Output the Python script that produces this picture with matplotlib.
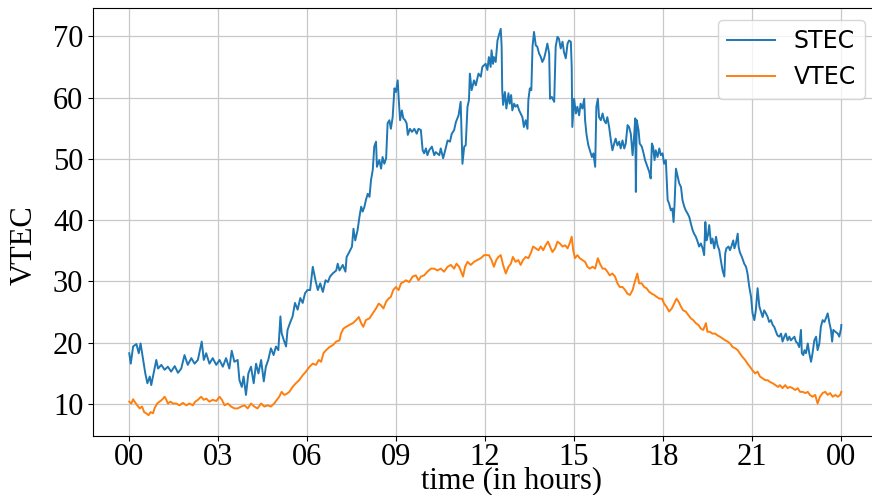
import matplotlib
matplotlib.use("Agg")
import matplotlib.pyplot as plt

# ---------------- data ----------------
stec_hours = [
    0.02, 0.07, 0.15, 0.26, 0.34, 0.40, 0.48, 0.56, 0.63, 0.71, 0.76, 0.85, 0.93, 0.99,
    1.10, 1.21, 1.32, 1.43, 1.55, 1.66, 1.77, 1.88, 1.99, 2.11, 2.22, 2.33, 2.46, 2.53,
    2.61, 2.72, 2.83, 2.95, 3.06, 3.17, 3.28, 3.39, 3.47, 3.56, 3.67, 3.73, 3.81, 3.87,
    3.95, 4.03, 4.12, 4.21, 4.29, 4.37, 4.46, 4.55, 4.62, 4.70, 4.79, 4.88, 4.96, 5.04,
    5.11, 5.15, 5.22, 5.30, 5.35, 5.43, 5.52, 5.60, 5.69, 5.78, 5.86, 5.94, 6.02,
    6.11, 6.20, 6.29, 6.37, 6.45, 6.54, 6.63, 6.71, 6.78, 6.87, 6.99, 7.04, 7.10, 7.21,
    7.30, 7.34, 7.43, 7.52, 7.57, 7.63, 7.71, 7.77, 7.83, 7.88, 7.94, 7.99, 8.05, 8.11,
    8.16, 8.22, 8.27, 8.33, 8.36, 8.44, 8.50, 8.55, 8.61, 8.67, 8.72, 8.78, 8.83, 8.89,
    8.95, 9.00, 9.06, 9.09, 9.14, 9.20, 9.25, 9.31, 9.36, 9.40, 9.47, 9.54, 9.62, 9.70,
    9.76, 9.84, 9.90, 9.95, 10.01, 10.06, 10.12, 10.21, 10.29, 10.34, 10.46, 10.51,
    10.59, 10.66, 10.74, 10.82, 10.88, 10.96, 11.02, 11.11, 11.18, 11.24, 11.30, 11.35,
    11.41, 11.46, 11.49, 11.55, 11.63, 11.69, 11.78, 11.86, 11.91,
    12.02, 12.08, 12.13, 12.19, 12.22, 12.27, 12.30, 12.36, 12.42, 12.47, 12.53, 12.56,
    12.58, 12.61, 12.67, 12.72, 12.79, 12.83, 12.88, 12.92, 12.98, 13.03, 13.09, 13.15,
    13.20, 13.26, 13.31, 13.37, 13.43, 13.46, 13.51, 13.56, 13.60, 13.65, 13.71, 13.76,
    13.82, 13.88, 13.93, 13.99, 14.04, 14.10, 14.16, 14.19, 14.25, 14.33, 14.38, 14.44,
    14.49, 14.55, 14.61, 14.66, 14.72, 14.78, 14.83, 14.89, 14.92, 14.94, 15.00, 15.06,
    15.11, 15.17, 15.22, 15.28, 15.34, 15.37, 15.42, 15.48, 15.53, 15.60, 15.65, 15.71,
    15.75, 15.80, 15.84, 15.90, 15.96, 16.01, 16.07, 16.12, 16.18, 16.24, 16.29, 16.35,
    16.40, 16.46, 16.52, 16.57, 16.63, 16.69, 16.74, 16.80, 16.85, 16.91, 16.97, 17.02,
    17.06, 17.08, 17.11, 17.17, 17.21, 17.28, 17.34, 17.39, 17.47, 17.53, 17.58, 17.62,
    17.66, 17.71, 17.75, 17.81, 17.87, 17.92, 17.98, 18.03, 18.09, 18.15,
    18.20, 18.26, 18.31, 18.35, 18.38, 18.43, 18.48, 18.54, 18.60, 18.65, 18.71, 18.76,
    18.82, 18.88, 18.93, 18.99, 19.04, 19.10, 19.16, 19.21, 19.27, 19.33, 19.38, 19.42,
    19.46, 19.51, 19.55, 19.61, 19.66, 19.72, 19.78, 19.83, 19.89, 19.94, 20.00, 20.06,
    20.09, 20.13, 20.20, 20.25, 20.31, 20.36, 20.40, 20.45, 20.51, 20.54, 20.58, 20.65,
    20.73, 20.79, 20.84, 20.90, 20.96, 21.01, 21.07, 21.12, 21.18, 21.24, 21.29, 21.35,
    21.40, 21.46, 21.52, 21.57, 21.63, 21.69, 21.74, 21.80, 21.85, 21.91, 21.97, 22.02,
    22.08, 22.13, 22.19, 22.25, 22.30, 22.36, 22.42, 22.47, 22.53, 22.58, 22.64, 22.67,
    22.72, 22.76, 22.81, 22.87, 22.92, 22.98, 23.03, 23.09, 23.15, 23.20, 23.26, 23.31,
    23.37, 23.43, 23.48, 23.54, 23.60, 23.65, 23.69, 23.73, 23.80, 23.88, 23.93, 23.99, 24.00,
]
stec_vals = [
    18.3, 16.6, 19.4, 19.8, 18.3, 19.9, 17.5, 15.0, 13.4, 14.5, 13.1, 15.3, 17.2, 15.8,
    16.4, 15.6, 16.1, 15.3, 16.2, 15.1, 15.8, 18.0, 16.4, 17.5, 16.6, 17.2, 20.2, 17.2,
    18.3, 16.6, 17.5, 16.4, 17.2, 16.1, 17.5, 15.8, 18.7, 16.9, 17.2, 13.9, 12.8, 14.5,
    11.5, 15.0, 16.1, 13.4, 16.6, 15.0, 17.2, 13.7, 16.1, 17.2, 19.1, 18.0, 19.4, 18.8,
    24.3, 21.6, 20.5, 19.4, 22.1, 23.2, 24.3, 26.5, 25.4, 27.3, 26.5, 28.1, 28.6,
    28.6, 32.4, 30.2, 28.6, 29.7, 28.3, 30.2, 29.9, 30.8, 31.3, 31.8, 32.9, 31.8, 32.7,
    31.6, 34.0, 34.8, 35.7, 38.6, 36.7, 38.4, 40.5, 42.2, 41.4, 42.2, 43.3, 44.3, 43.8,
    46.5, 48.2, 52.0, 52.8, 48.7, 49.8, 48.4, 50.3, 49.2, 50.1, 55.8, 56.3, 54.9, 56.8,
    61.5, 60.9, 62.8, 60.1, 56.3, 57.9, 56.6, 56.3, 55.8, 53.9, 54.9, 54.4, 54.9, 54.1,
    54.9, 54.7, 51.4, 50.9, 51.7, 50.6, 51.4, 52.0, 50.6, 51.1, 50.6, 51.7,
    50.1, 51.4, 53.0, 52.8, 54.1, 54.7, 56.0, 57.1, 59.3, 49.2, 52.0, 52.2,
    58.5, 59.6, 63.9, 61.2, 62.8, 62.0, 63.9, 63.4, 65.0,
    65.5, 64.5, 66.6, 65.0, 67.7, 65.5, 66.6, 65.8, 69.3, 70.2, 71.2, 68.3,
    61.2, 58.8, 60.9, 58.2, 60.7, 59.0, 60.4, 57.9, 59.0, 58.5, 58.8, 57.9,
    57.4, 56.8, 55.2, 56.3, 54.9, 59.6, 61.5, 61.2, 68.3, 70.7, 68.5, 68.3,
    67.2, 66.6, 65.8, 66.4, 67.4, 68.8, 67.2, 59.8, 60.1, 59.3, 68.3, 69.9,
    69.6, 68.0, 69.1, 67.4, 66.4, 68.8, 69.3, 69.1, 65.0, 55.2, 59.8, 57.4,
    58.5, 57.1, 59.0, 58.2, 59.8, 56.3, 53.9, 52.2, 51.4, 50.3, 50.9, 48.7,
    58.5, 59.8, 56.8, 56.3, 57.4, 56.3, 55.8, 56.8, 55.2, 53.0, 51.4, 52.5,
    53.3, 52.2, 52.8, 51.7, 53.0, 51.7, 52.5, 55.5, 55.2, 54.1, 50.6, 53.6,
    56.6, 44.6, 56.3, 54.7, 52.5, 52.0, 50.9, 49.8, 48.7, 47.9, 46.8, 52.5,
    52.0, 49.8, 51.4, 50.3, 51.7, 50.6, 50.9, 49.2, 49.8, 43.3,
    42.7, 41.6, 41.9, 39.7, 42.2, 48.4, 47.3, 46.0, 45.4, 43.3, 42.2, 41.6,
    41.1, 40.5, 39.5, 38.4, 37.8, 37.3, 36.5, 35.7, 36.2, 35.4, 34.3, 39.7,
    36.7, 37.6, 39.2, 36.2, 37.0, 35.4, 37.3, 35.9, 35.1, 33.5, 31.8, 30.8,
    34.6, 35.4, 35.7, 35.1, 35.9, 36.7, 35.4, 36.2, 37.8, 35.7, 34.8, 34.0,
    32.9, 32.4, 31.3, 29.1, 27.5, 24.8, 23.7, 25.3, 28.9, 25.9, 25.1, 24.2,
    25.3, 24.8, 24.2, 23.4, 23.7, 22.9, 22.6, 21.8, 21.2, 21.0, 21.5, 20.2,
    21.0, 21.5, 20.4, 21.0, 20.4, 20.7, 21.0, 20.2, 19.9, 19.3, 22.1, 18.3,
    18.0, 18.8, 18.3, 19.9, 18.3, 16.9, 18.3, 20.4, 21.0, 18.8, 19.9, 22.6,
    23.7, 23.4, 24.0, 24.8, 23.2, 22.1, 20.2, 22.1, 21.8, 21.5, 21.0, 22.3, 22.9,
]

vtec_hours = [
    0.02, 0.09, 0.15, 0.20, 0.29, 0.37, 0.45, 0.52, 0.59, 0.67, 0.74, 0.82, 0.87, 0.96,
    1.04, 1.12, 1.21, 1.27, 1.32, 1.41, 1.49, 1.60, 1.71, 1.83, 1.94, 2.05, 2.16, 2.24,
    2.33, 2.44, 2.53, 2.61, 2.72, 2.83, 2.95, 3.06, 3.14, 3.23, 3.34, 3.45, 3.56, 3.67,
    3.79, 3.90, 4.01, 4.12, 4.23, 4.34, 4.46, 4.57, 4.68, 4.79, 4.90, 4.99, 5.07, 5.15,
    5.24, 5.33, 5.41, 5.52, 5.63, 5.74, 5.86, 5.97,
    6.09, 6.20, 6.31, 6.40, 6.48, 6.56, 6.65, 6.76, 6.87, 6.99, 7.10, 7.15, 7.23, 7.32,
    7.43, 7.55, 7.66, 7.75, 7.83, 7.90, 7.99, 8.11, 8.22, 8.33, 8.42, 8.50, 8.58, 8.67,
    8.75, 8.83, 8.91, 9.00, 9.09, 9.17, 9.25, 9.34, 9.45, 9.56, 9.67, 9.76, 9.84, 9.95,
    10.06, 10.18, 10.29, 10.40, 10.51, 10.62, 10.74, 10.85, 10.96, 11.04, 11.13, 11.22,
    11.26, 11.33, 11.41, 11.52, 11.63, 11.74, 11.86, 11.97,
    12.04, 12.13, 12.22, 12.30, 12.38, 12.45, 12.53, 12.61, 12.70, 12.79, 12.87, 12.94,
    13.03, 13.12, 13.20, 13.28, 13.37, 13.46, 13.54, 13.62, 13.71, 13.80, 13.88, 13.96,
    14.04, 14.12, 14.19, 14.27, 14.36, 14.44, 14.52, 14.61, 14.70, 14.78, 14.85, 14.92,
    14.97, 15.03, 15.11, 15.19, 15.28, 15.37, 15.45, 15.53, 15.62, 15.71, 15.80, 15.87,
    15.96, 16.04, 16.12, 16.20, 16.29, 16.38, 16.46, 16.54, 16.63, 16.72, 16.80, 16.88,
    16.97, 17.06, 17.13, 17.19, 17.28, 17.36, 17.44, 17.53, 17.62, 17.70, 17.78, 17.87, 17.96,
    18.03, 18.11, 18.20, 18.29, 18.37, 18.45, 18.52, 18.60, 18.67, 18.76, 18.85, 18.93,
    19.01, 19.10, 19.19, 19.27, 19.35, 19.44, 19.49, 19.57, 19.66, 19.75, 19.83, 19.91,
    20.00, 20.09, 20.17, 20.25, 20.34, 20.43, 20.51, 20.58, 20.67, 20.76, 20.84, 20.92,
    21.01, 21.10, 21.18, 21.26, 21.35, 21.44, 21.52, 21.60, 21.69, 21.78, 21.87, 21.93,
    22.02, 22.11, 22.19, 22.27, 22.36, 22.45, 22.53, 22.61, 22.70, 22.79, 22.87, 22.94,
    23.03, 23.12, 23.20, 23.28, 23.37, 23.46, 23.54, 23.62, 23.71, 23.80, 23.88, 23.96, 24.00,
]
vtec_vals = [
    10.4, 10.1, 10.8, 10.4, 9.8, 9.3, 9.6, 8.7, 8.5, 8.2, 8.7, 8.5, 9.3, 10.1,
    10.4, 10.7, 11.2, 10.7, 10.1, 10.4, 10.1, 10.1, 9.8, 10.2, 9.8, 10.1, 9.8, 10.4,
    10.7, 11.2, 10.7, 10.9, 10.4, 10.7, 10.5, 11.2, 10.7, 9.8, 10.1, 9.6, 9.3, 9.3,
    9.6, 9.8, 9.3, 10.1, 9.6, 9.3, 10.1, 9.6, 9.8, 9.6, 10.1, 10.7, 11.2, 12.0,
    11.5, 11.7, 12.0, 12.8, 13.4, 13.9, 14.7, 15.3,
    16.1, 16.6, 16.4, 17.2, 16.9, 18.3, 18.8, 19.3, 19.6, 20.2, 20.4, 21.5, 22.3, 22.6,
    22.9, 23.2, 23.7, 24.2, 23.2, 22.6, 23.7, 24.0, 24.8, 25.6, 26.4, 26.1, 25.6, 26.7,
    27.2, 27.5, 28.6, 29.1, 28.6, 29.7, 29.9, 30.2, 29.9, 30.8, 31.0, 30.2, 30.8, 31.0,
    31.6, 32.1, 32.1, 31.8, 32.1, 31.6, 32.4, 32.7, 32.1, 32.9, 32.4, 31.3,
    30.8, 32.4, 33.2, 32.7, 33.2, 33.5, 33.8, 34.3,
    34.3, 34.3, 33.5, 32.4, 33.5, 34.0, 34.3, 32.7, 31.3, 32.4, 32.9, 34.0,
    33.2, 33.5, 32.7, 33.5, 34.0, 33.8, 34.6, 35.7, 35.4, 35.1, 35.7, 35.1,
    35.9, 36.5, 35.7, 34.8, 35.4, 36.5, 36.2, 35.7, 35.9, 35.4, 36.2, 37.3,
    35.1, 33.8, 34.3, 33.8, 33.5, 33.2, 32.4, 32.1, 32.4, 32.1, 33.8, 32.9,
    32.1, 32.1, 31.6, 31.0, 31.3, 30.8, 29.7, 29.1, 29.1, 28.6, 28.0, 27.8,
    28.6, 30.2, 31.3, 29.7, 29.7, 29.1, 28.9, 28.3, 28.0, 27.8, 27.5, 27.2, 27.2,
    26.4, 25.9, 25.1, 25.6, 26.4, 27.2, 26.7, 25.9, 25.3, 25.1, 24.5, 24.0,
    23.7, 23.2, 22.9, 22.3, 22.1, 23.2, 21.8, 21.8, 21.5, 21.5, 21.2, 21.0,
    20.7, 20.4, 20.2, 19.9, 19.3, 19.1, 18.8, 18.3, 17.7, 17.2, 16.6, 16.1,
    15.5, 15.0, 15.3, 14.5, 14.2, 13.9, 13.9, 13.6, 13.4, 13.1, 12.8, 13.1,
    12.6, 13.1, 12.6, 12.8, 12.6, 12.3, 12.6, 12.0, 12.0, 11.8, 12.0, 11.5,
    11.2, 11.5, 10.1, 11.2, 11.8, 12.0, 11.5, 11.8, 11.2, 11.5, 11.2, 11.5, 12.0,
]

tick_hours = [0, 3, 6, 9, 12, 15, 18, 21, 24]
tick_labels = ["00", "03", "06", "09", "12", "15", "18", "21", "00"]

# ---------------- plot ----------------
serif = ["Liberation Serif", "DejaVu Serif"]

fig = plt.figure(figsize=(8.72, 4.95), dpi=100)
ax = fig.add_axes([0.1067, 0.1192, 0.899, 0.8646])

ax.plot(stec_hours, stec_vals, color="tab:blue", lw=1.4, label="STEC")
ax.plot(vtec_hours, vtec_vals, color="tab:orange", lw=1.4, label="VTEC")

ax.set_xlim(-1.2, 25.2)
ax.set_ylim(4.8, 74.6)
ax.set_xticks(tick_hours)
ax.set_xticklabels(tick_labels)
ax.set_yticks([10, 20, 30, 40, 50, 60, 70])
ax.tick_params(axis="x", pad=1.5)
for lab in ax.get_xticklabels() + ax.get_yticklabels():
    lab.set_family(serif)
    lab.set_fontsize(22)

ax.set_xlabel("time (in hours)", family=serif, fontsize=22)
ax.set_ylabel("VTEC", family=serif, fontsize=22)
ax.xaxis.set_label_coords(0.534, -0.07)
ax.yaxis.set_label_coords(-0.069, 0.446)

ax.grid(True, color="#c8c8c8", lw=0.9)
ax.legend(loc="upper right", fontsize=17)

fig.savefig("out.png", dpi=100)
